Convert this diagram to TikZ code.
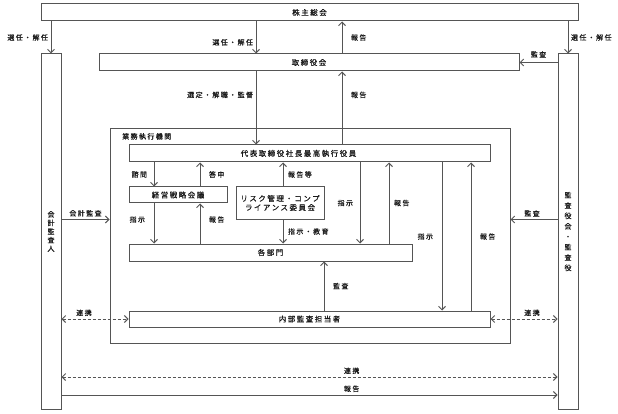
\documentclass[tikz,border=0pt]{standalone}
\usepackage{fontspec}
\setmainfont{Noto Sans CJK JP}[LetterSpace=20, FakeBold=0.6]
\usetikzlibrary{positioning,arrows.meta}
\definecolor{cline}{RGB}{85,85,85}
\definecolor{ctext}{RGB}{25,25,25}

\begin{document}
\begin{tikzpicture}[x=1pt, y=-1pt,
    >={Straight Barb[length=3.5pt,width=7pt]},
    box/.style={draw=cline, line width=1pt, inner sep=0pt, text=ctext,
                font=\fontsize{7.5}{9}\selectfont},
    vbox/.style={box, minimum width=20pt, minimum height=355pt, align=center},
    lbl/.style={font=\fontsize{7}{8}\selectfont, inner sep=2.5pt, text=ctext},
    conn/.style={draw=cline, line width=1pt, ->},
    link/.style={draw=cline, line width=1pt, dash pattern=on 3pt off 2pt, <->},
  ]
  \useasboundingbox (0,0) rectangle (618,414);
  % top boxes
  \node[box, minimum width=537pt, minimum height=17pt] (soukai) at (309.5,12.5) {株主総会};
  \node[box, minimum width=420pt, minimum height=17pt] (torishimari) at (309,62.5) {取締役会};
  % side boxes
  \node[vbox, font=\fontsize{7}{8.6}\selectfont] (kaikei) at (51,231.5) {会\\計\\監\\査\\人};
  \node[vbox, font=\fontsize{7}{10.4}\selectfont] (kansa) at (568,231.5) {監\\査\\役\\会\\・\\監\\査\\役};
  % executive body
  \node[box, minimum width=400pt, minimum height=214pt] (gyomu) at (310,236) {};
  \node[lbl, anchor=north west] (gyomulbl) at ([xshift=10pt,yshift=-2pt]gyomu.north west) {業務執行機関};
  \node[box, minimum width=361pt, minimum height=17pt] (daihyo) at (309.5,153.5) {代表取締役社長最高執行役員\kern22pt};
  \node[box, minimum width=98pt, minimum height=16pt] (senryaku) at (178,195) {経営戦略会議};
  \node[box, minimum width=88pt, minimum height=32pt, align=center] (risk) at (280,203)
    {リスク管理・コンプ\\ライアンス委員会};
  \node[box, minimum width=283pt, minimum height=17pt] (kakubu) at (270.5,252.5) {各部門};
  \node[box, minimum width=361pt, minimum height=16pt] (naibu) at (309.5,319) {内部監査担当者};

  % shareholders meeting
  \draw[conn] (soukai.south -| kaikei.north) -- node[lbl, left] {選任・解任} (kaikei.north);
  \draw[conn] (soukai.south -| kansa.north) -- node[lbl, right] {選任・解任} (kansa.north);
  \draw[conn] ([xshift=-53pt]torishimari.north |- soukai.south) -- node[lbl, left, pos=0.65] {選任・解任} ([xshift=-53pt]torishimari.north);
  \draw[conn] ([xshift=33pt]torishimari.north) -- node[lbl, right, xshift=6pt] {報告} ([xshift=33pt]torishimari.north |- soukai.south);
  \draw[conn] (kansa.west |- torishimari.east) -- node[lbl, above, yshift=2pt] {監査} (torishimari.east);
  % board
  \draw[conn] ([xshift=-53pt]torishimari.south) -- node[lbl, left, pos=0.32] {選定・解職・監督} ([xshift=-53pt]torishimari.south |- daihyo.north);
  \draw[conn] ([xshift=33pt]torishimari.south |- daihyo.north) -- node[lbl, right, pos=0.68, xshift=6pt] {報告} ([xshift=33pt]torishimari.south);
  % president
  \draw[conn] ([xshift=-24pt]senryaku.north |- daihyo.south) -- node[lbl, left, xshift=-4pt] {諮問} ([xshift=-24pt]senryaku.north);
  \draw[conn] ([xshift=22pt]senryaku.north) -- node[lbl, right, xshift=6pt] {答申} ([xshift=22pt]senryaku.north |- daihyo.south);
  \draw[conn] ([xshift=3pt]risk.north) -- node[lbl, right, xshift=2pt] {報告等} ([xshift=3pt]risk.north |- daihyo.south);
  \draw[conn] ([xshift=3pt]risk.south) -- node[lbl, right, xshift=2pt] {指示・教育} ([xshift=3pt]risk.south |- kakubu.north);
  \draw[conn] ([xshift=-24pt]senryaku.south) -- node[lbl, left, xshift=-6pt, pos=0.4] {指示} ([xshift=-24pt]senryaku.south |- kakubu.north);
  \draw[conn] ([xshift=22pt]senryaku.south |- kakubu.north) -- node[lbl, right, xshift=6pt, pos=0.6] {報告} ([xshift=22pt]senryaku.south);
  \draw[conn] ([xshift=50.5pt]daihyo.south) -- node[lbl, left, xshift=-4pt] {指示} ([xshift=50.5pt]daihyo.south |- kakubu.north);
  \draw[conn] ([xshift=79.5pt]daihyo.south |- kakubu.north) -- node[lbl, right, xshift=2pt] {報告} ([xshift=79.5pt]daihyo.south);
  \draw[conn] ([xshift=132.5pt]daihyo.south) -- node[lbl, left, xshift=-6pt] {指示} ([xshift=132.5pt]daihyo.south |- naibu.north);
  \draw[conn] ([xshift=161.5pt]daihyo.south |- naibu.north) -- node[lbl, right, xshift=6pt] {報告} ([xshift=161.5pt]daihyo.south);
  % internal audit
  \draw[conn] ([xshift=14.5pt]naibu.north) -- node[lbl, right, xshift=6pt] {監査} ([xshift=14.5pt]naibu.north |- kakubu.south);
  \draw[link] (kaikei.east |- naibu.west) -- node[lbl, above, xshift=-11pt] {連携} (naibu.west);
  \draw[link] (naibu.east) -- node[lbl, above, xshift=8pt] {連携} (kansa.west |- naibu.east);
  % auditors
  \draw[conn] (kaikei.east |- risk.south) -- node[lbl, above] {会計監査} (gyomu.west |- risk.south);
  \draw[conn] (kansa.west |- risk.south) -- node[lbl, above, xshift=-2pt] {監査} (gyomu.east |- risk.south);
  \draw[link] ([yshift=-145.5pt]kaikei.east) -- node[lbl, above, pos=0.585] {連携} ([yshift=-145.5pt]kansa.west);
  \draw[conn] ([yshift=-163.5pt]kaikei.east) -- node[lbl, above, pos=0.585] {報告} ([yshift=-163.5pt]kansa.west);
\end{tikzpicture}
\end{document}
